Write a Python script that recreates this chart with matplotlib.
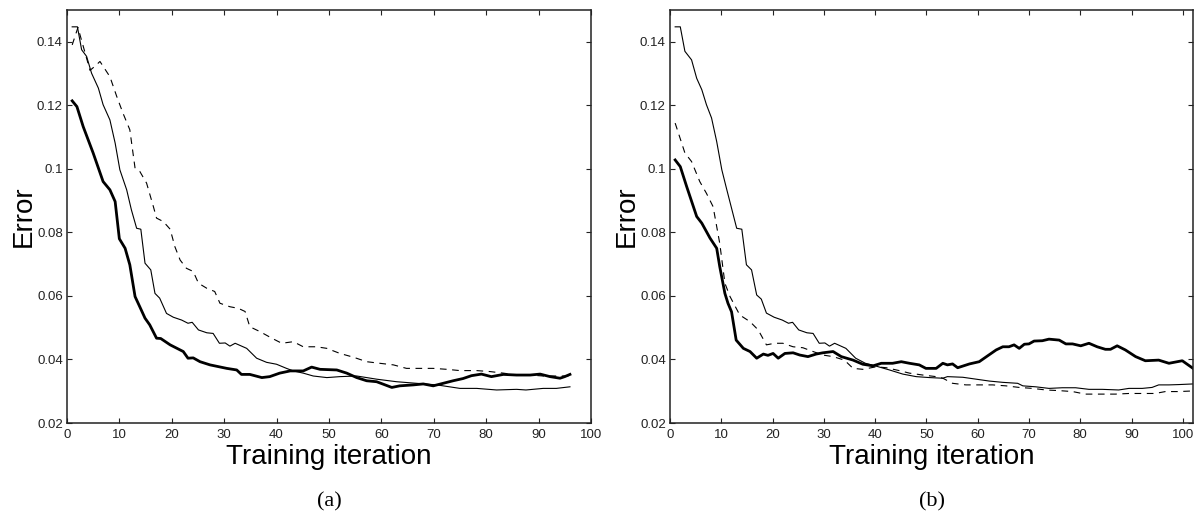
import matplotlib
matplotlib.use("Agg")
import matplotlib.pyplot as plt

# === Datos ===
YTICKS = [0.02, 0.04, 0.06, 0.08, 0.10, 0.12, 0.14]
YTICK_LABELS = ["0.02", "0.04", "0.06", "0.08", "0.1", "0.12", "0.14"]
XTICKS = [0, 10, 20, 30, 40, 50, 60, 70, 80, 90, 100]

# Panel (a)
a_thick_x = [1, 1.9, 3.1, 5.0, 6.9, 8.2, 9.2, 10.0, 11.1, 12.0,
             13.0, 13.9, 14.9, 15.8, 17.1, 17.9, 19.7, 22.2, 23.1, 24.1,
             25.4, 27.3, 30.5, 32.4, 33.3, 34.9, 37.2, 38.7, 40.6, 42.6,
             45.1, 46.7, 48.3, 51.5, 53.4, 55.3, 57.2, 59.1, 60.4, 62.0,
             63.5, 66.1, 68.0, 69.9, 71.8, 73.7, 75.6, 77.2, 79.1, 81.0,
             83.3, 85.8, 88.4, 90.3, 92.2, 94.1, 95.0, 96.0]
a_thick_y = [0.1214, 0.1196, 0.1133, 0.105, 0.096, 0.0934, 0.0897, 0.078, 0.075, 0.0698,
             0.0598, 0.0566, 0.053, 0.0509, 0.0467, 0.0466, 0.0446, 0.0425, 0.0404, 0.0405,
             0.0393, 0.0383, 0.0372, 0.0367, 0.0353, 0.0353, 0.0343, 0.0346, 0.0357, 0.0364,
             0.0364, 0.0376, 0.0369, 0.0367, 0.0357, 0.0343, 0.0333, 0.033, 0.0322, 0.0312,
             0.0317, 0.032, 0.0323, 0.0317, 0.0325, 0.0333, 0.034, 0.0349, 0.0354, 0.0346,
             0.0353, 0.0351, 0.0351, 0.0354, 0.0346, 0.0341, 0.0346, 0.0353]

a_thin_x = [1, 2, 2.8, 3.75, 4.7, 6.0, 6.9, 8.2, 9.2, 10.1,
            11.4, 12.3, 13.3, 14.1, 14.9, 16.0, 16.8, 17.7, 19.0, 20.3,
            21.9, 23.1, 23.9, 25.1, 26.7, 27.9, 29.1, 30.2, 31.1, 32.1,
            34.3, 36.2, 38.1, 40.0, 41.9, 43.2, 45.1, 47.0, 49.6, 52.1,
            55.3, 59.1, 62.9, 66.7, 70.6, 75.0, 78.2, 82.0, 85.8, 87.6,
            90.9, 93.4, 96.0]
a_thin_y = [0.1447, 0.1447, 0.1375, 0.1354, 0.1301, 0.1254, 0.1202, 0.1154, 0.1081, 0.0997,
            0.0934, 0.0871, 0.0813, 0.081, 0.0703, 0.0682, 0.0608, 0.0593, 0.0545, 0.0533,
            0.0524, 0.0514, 0.0517, 0.0493, 0.0484, 0.0482, 0.0451, 0.0452, 0.0442, 0.0451,
            0.0435, 0.0404, 0.0391, 0.0385, 0.0372, 0.0364, 0.0357, 0.0348, 0.0343, 0.0346,
            0.0348, 0.0338, 0.033, 0.0325, 0.032, 0.0309, 0.0309, 0.0304, 0.0306, 0.0304,
            0.0309, 0.0309, 0.0314]

a_dash_x = [1, 2.1, 4.4, 5.35, 6.3, 8.2, 9.5, 10.7, 12.0, 13.0,
            13.9, 15.2, 16.5, 17.1, 18.4, 19.7, 20.6, 21.6, 22.8, 24.1,
            25.1, 26.7, 28.2, 29.2, 31.1, 32.7, 34.0, 34.9, 36.8, 39.1,
            41.0, 43.2, 45.1, 47.6, 49.6, 52.1, 54.7, 57.2, 59.7, 62.3,
            64.8, 67.4, 69.9, 72.5, 75.0, 78.2, 80.7, 83.3, 85.8, 88.4,
            90.9, 93.4, 96.0]
a_dash_y = [0.139, 0.1445, 0.131, 0.1323, 0.1338, 0.129, 0.1228, 0.1175, 0.1123, 0.1002,
            0.0992, 0.0955, 0.0881, 0.0845, 0.0834, 0.081, 0.0755, 0.0713, 0.0687, 0.0677,
            0.064, 0.0624, 0.0614, 0.0577, 0.0566, 0.0561, 0.0551, 0.0503, 0.0488, 0.0467,
            0.0451, 0.0456, 0.044, 0.044, 0.0435, 0.0419, 0.0407, 0.0393, 0.0388, 0.0383,
            0.0372, 0.0372, 0.0372, 0.0369, 0.0365, 0.0365, 0.0362, 0.0357, 0.0351, 0.0351,
            0.0348, 0.0348, 0.0348]

# Panel (b)
b_thick_x = [1, 2, 3.25, 5.2, 6.2, 7.8, 9.1, 9.7, 10.7, 11.3,
             12.0, 12.9, 14.3, 15.6, 16.9, 18.2, 19.1, 20.1, 21.1, 22.4,
             24.0, 25.3, 26.9, 28.5, 29.8, 31.8, 33.4, 35.7, 37.6, 39.6,
             41.2, 43.4, 45.1, 46.7, 48.6, 49.9, 51.9, 53.2, 54.1, 55.1,
             56.1, 58.4, 60.3, 61.9, 63.6, 64.9, 66.1, 67.1, 68.1, 69.1,
             70.0, 71.0, 72.6, 73.9, 75.9, 77.2, 78.5, 80.1, 81.7, 83.3,
             84.9, 85.9, 87.2, 88.8, 90.8, 92.7, 95.3, 97.3, 99.9, 102]
b_thick_y = [0.1028, 0.1007, 0.0944, 0.085, 0.0829, 0.0782, 0.075, 0.0692, 0.0608, 0.0577,
             0.055, 0.0461, 0.0435, 0.0425, 0.0404, 0.0417, 0.0413, 0.0419, 0.0404, 0.0419,
             0.0421, 0.0414, 0.0409, 0.0417, 0.0421, 0.0425, 0.0409, 0.0398, 0.0385, 0.038,
             0.0388, 0.0388, 0.0393, 0.0388, 0.0383, 0.0372, 0.0372, 0.0388, 0.0383, 0.0386,
             0.0374, 0.0386, 0.0393, 0.0411, 0.043, 0.044, 0.044, 0.0446, 0.0435, 0.0448,
             0.0449, 0.0458, 0.0459, 0.0464, 0.0461, 0.0449, 0.0449, 0.0443, 0.0451, 0.044,
             0.0432, 0.0432, 0.0443, 0.043, 0.0409, 0.0396, 0.0398, 0.0388, 0.0396, 0.0372]

b_thin_x = [1, 2, 2.9, 4.2, 5.2, 6.2, 7.1, 8.1, 9.1, 10.1,
            11.0, 12.0, 13.0, 14.0, 14.9, 15.9, 16.9, 17.8, 18.8, 20.3,
            21.9, 23.1, 23.9, 25.1, 26.7, 27.9, 29.1, 30.2, 31.1, 32.1,
            34.3, 36.2, 38.1, 40.0, 42.8, 45.4, 48.0, 50.6, 53.2, 54.1,
            57.1, 59.7, 62.3, 64.9, 67.8, 68.8, 71.3, 73.9, 76.5, 79.1,
            81.7, 84.3, 87.5, 89.5, 92.1, 94.0, 95.3, 97.3, 99.2, 102]
b_thin_y = [0.1447, 0.1447, 0.137, 0.1343, 0.1285, 0.1249, 0.1202, 0.116, 0.1086, 0.0997,
            0.0939, 0.0876, 0.0813, 0.081, 0.0698, 0.0682, 0.0603, 0.059, 0.0546, 0.0533,
            0.0524, 0.0514, 0.0517, 0.0493, 0.0484, 0.0482, 0.0451, 0.0452, 0.0442, 0.0451,
            0.0435, 0.0404, 0.0388, 0.0380, 0.0367, 0.0354, 0.0346, 0.0343, 0.0341, 0.0346,
            0.0344, 0.0338, 0.0332, 0.0328, 0.0325, 0.0317, 0.0314, 0.0309, 0.0311, 0.0311,
            0.0306, 0.0306, 0.0304, 0.0309, 0.0309, 0.0312, 0.032, 0.032, 0.0321, 0.0323]

b_dash_x = [1, 2.9, 4.2, 5.8, 7.1, 8.4, 9.7, 10.7, 11.7, 13.6,
            15.6, 17.2, 18.8, 20.4, 22.0, 24.0, 25.9, 27.9, 29.8, 31.8,
            34.0, 35.7, 37.6, 40.2, 42.2, 44.7, 46.7, 49.3, 51.9, 53.2,
            55.1, 57.7, 60.3, 62.9, 65.5, 68.1, 70.7, 73.3, 75.9, 78.5,
            81.0, 83.6, 86.9, 89.5, 92.1, 94.6, 96.6, 99.2, 102]
b_dash_y = [0.1144, 0.105, 0.1023, 0.096, 0.0923, 0.0881, 0.0765, 0.064, 0.0598, 0.054,
            0.0519, 0.0493, 0.0446, 0.0451, 0.0451, 0.044, 0.0437, 0.0425, 0.0414, 0.0409,
            0.0398, 0.0372, 0.0369, 0.0377, 0.0374, 0.0365, 0.0357, 0.0351, 0.0346, 0.0341,
            0.0325, 0.032, 0.032, 0.032, 0.0317, 0.0312, 0.0309, 0.0304, 0.0302, 0.0299,
            0.0291, 0.0291, 0.0291, 0.0293, 0.0293, 0.0293, 0.0299, 0.0299, 0.0301]

plt.rcParams["font.family"] = ["Liberation Sans", "DejaVu Sans"]

fig = plt.figure(figsize=(12.04, 5.15), dpi=100)
ax_a = fig.add_axes([0.0556, 0.1786, 0.4352, 0.802])
ax_b = fig.add_axes([0.5565, 0.1786, 0.4344, 0.802])


def estilo(ax, xmax):
    ax.set_xlim(0, xmax)
    ax.set_ylim(0.02, 0.15)
    ax.set_xticks(XTICKS)
    ax.set_yticks(YTICKS)
    ax.set_yticklabels(YTICK_LABELS)
    ax.tick_params(direction="in", top=True, right=True, length=3.5,
                   width=0.8, labelsize=9.5, colors="#222222")
    ax.tick_params(axis="x", pad=4)
    ax.tick_params(axis="y", pad=3)
    for s in ax.spines.values():
        s.set_linewidth(1.1)
        s.set_color("#222222")
    ax.set_xlabel("Training iteration", fontsize=20)
    ax.set_ylabel("Error", fontsize=20)
    ax.xaxis.set_label_coords(0.5, -0.05)
    ax.yaxis.set_label_coords(-0.057, 0.5)


ax_a.plot(a_dash_x, a_dash_y, color="black", lw=0.8, linestyle=(0, (6, 5)))
ax_a.plot(a_thin_x, a_thin_y, color="black", lw=0.8)
ax_a.plot(a_thick_x, a_thick_y, color="black", lw=2.0)
estilo(ax_a, 100)

ax_b.plot(b_dash_x, b_dash_y, color="black", lw=0.8, linestyle=(0, (6, 5)))
ax_b.plot(b_thin_x, b_thin_y, color="black", lw=0.8)
ax_b.plot(b_thick_x, b_thick_y, color="black", lw=2.0)
estilo(ax_b, 102)

fig.text(0.2733, 0.025, "(a)", ha="center", va="center", fontsize=16,
         family=["Liberation Serif", "DejaVu Serif"])
fig.text(0.7737, 0.025, "(b)", ha="center", va="center", fontsize=16,
         family=["Liberation Serif", "DejaVu Serif"])

fig.savefig("out.png", dpi=100)
